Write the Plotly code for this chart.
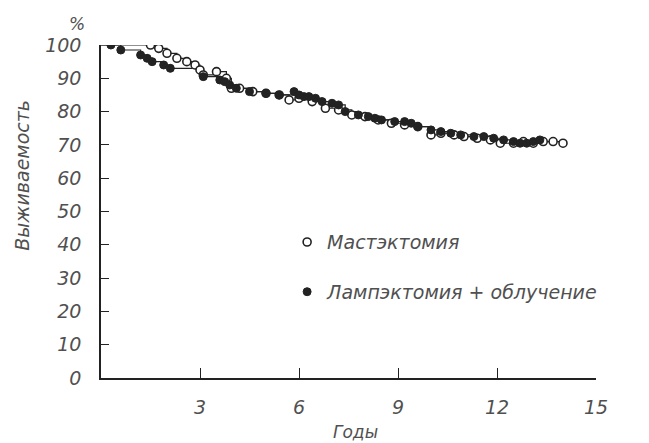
import plotly.graph_objects as go

# Mastectomy (open circles)
mast_t = [0, 1.5, 1.75, 2.0, 2.3, 2.6, 2.85, 3.0, 3.1, 3.5, 3.8, 3.95, 4.2, 4.6, 5.0, 5.4, 5.7, 6.0, 6.4, 6.8,
          7.2, 7.6, 8.0, 8.4, 8.8, 9.2, 9.6, 10.0, 10.3, 10.7, 11.0, 11.4, 11.8, 12.1, 12.5, 12.8, 13.1, 13.4,
          13.7, 14.0]
mast_s = [100, 100, 99, 97.5, 96, 95, 94, 92.5, 91, 92, 90, 87, 87, 86, 85.5, 85, 83.5, 84, 83, 81,
          80.5, 79, 78.5, 77.5, 76.5, 76, 75.5, 73, 73.5, 73, 72.5, 72, 71.5, 70.5, 70.5, 71, 70.5, 71,
          71, 70.5]

# Lumpectomy + irradiation (filled circles)
lump_t = [0, 0.3, 0.6, 1.2, 1.4, 1.55, 1.9, 2.1, 3.1, 3.6, 3.75, 3.9, 4.1, 4.5, 5.0, 5.4, 5.85, 6.0, 6.15,
          6.3, 6.5, 6.7, 7.0, 7.2, 7.4, 7.8, 8.1, 8.3, 8.5, 8.9, 9.2, 9.4, 9.6, 10.0, 10.3, 10.6, 10.9,
          11.3, 11.6, 11.9, 12.2, 12.5, 12.7, 12.9, 13.1, 13.3]
lump_s = [100, 100, 98.5, 97, 96, 95, 94, 93, 90.5, 89.5, 89, 88, 87, 86, 85.5, 85, 86, 85, 84.5,
          84.5, 84, 83, 82.5, 82, 80, 79, 78.5, 78, 77.5, 77, 77, 76.5, 75.5, 74.5, 74, 73.5, 73,
          72.5, 72.5, 72, 71.5, 71, 70.5, 70.5, 71, 71.5]

x_ticks = [3, 6, 9, 12, 15]
y_ticks = [0, 10, 20, 30, 40, 50, 60, 70, 80, 90, 100]

name_mast = "Мастэктомия"
name_lump = "Лампэктомия + облучение"

INK = "#222"
TXT = "#505050"
FONT = "DejaVu Sans, Liberation Sans, sans-serif"

fig = go.Figure()
fig.add_trace(go.Scatter(x=mast_t, y=mast_s, mode="lines", line=dict(color=INK, width=1.2, shape="hv"),
                         showlegend=False, hoverinfo="skip"))
fig.add_trace(go.Scatter(x=lump_t, y=lump_s, mode="lines", line=dict(color=INK, width=1.2, shape="hv"),
                         showlegend=False, hoverinfo="skip"))
fig.add_trace(go.Scatter(x=mast_t[1:], y=mast_s[1:], mode="markers", name=name_mast, legendgroup="a",
                         marker=dict(symbol="circle", size=8, color="white", line=dict(color=INK, width=1.6))))
fig.add_trace(go.Scatter(x=lump_t[1:], y=lump_s[1:], mode="markers", name=name_lump, legendgroup="b",
                         marker=dict(symbol="circle", size=8, color=INK, line=dict(color=INK, width=1))))

# page body adds an 8px offset; margins compensate so the plot lands where the reference has it
fig.update_layout(
    width=649, height=443,
    margin=dict(l=93, r=61, t=37, b=73),
    paper_bgcolor="white", plot_bgcolor="white",
    font=dict(family=FONT, color=TXT, size=18, style="italic"),
    legend=dict(x=0.376, y=0.465, xanchor="left", yanchor="top", tracegroupgap=22,
                font=dict(family=FONT, size=19, style="italic", color=TXT), bgcolor="rgba(0,0,0,0)",
                itemwidth=30),
    xaxis=dict(range=[0, 15], tickvals=x_ticks, ticktext=[str(v) for v in x_ticks],
               showgrid=False, zeroline=False, showline=True, linecolor=INK, linewidth=1.5,
               ticks="inside", ticklen=10, tickcolor=INK, tickwidth=1.2, ticklabelstandoff=11,
               tickfont=dict(family=FONT, size=19, style="italic", color=TXT)),
    yaxis=dict(range=[0, 100], tickvals=y_ticks, ticktext=[str(v) for v in y_ticks],
               showgrid=False, zeroline=False, showline=True, linecolor=INK, linewidth=1.5,
               ticks="inside", ticklen=8, tickcolor=INK, tickwidth=1.2, ticklabelstandoff=14,
               tickfont=dict(family=FONT, size=19, style="italic", color=TXT)),
    annotations=[
        dict(text="%", xref="paper", yref="paper", x=-0.048, y=1.063, xanchor="center", yanchor="middle",
             showarrow=False, font=dict(family=FONT, size=17, style="italic", color=TXT)),
        dict(text="Выживаемость", xref="paper", yref="paper", x=-0.16, y=0.61, textangle=-90,
             xanchor="center", yanchor="middle", showarrow=False,
             font=dict(family=FONT, size=19, style="italic", color=TXT)),
        dict(text="Годы", xref="paper", yref="paper", x=0.515, y=-0.162, xanchor="center", yanchor="middle",
             showarrow=False, font=dict(family=FONT, size=17, style="italic", color=TXT)),
    ],
)

fig.write_html("out.html")
